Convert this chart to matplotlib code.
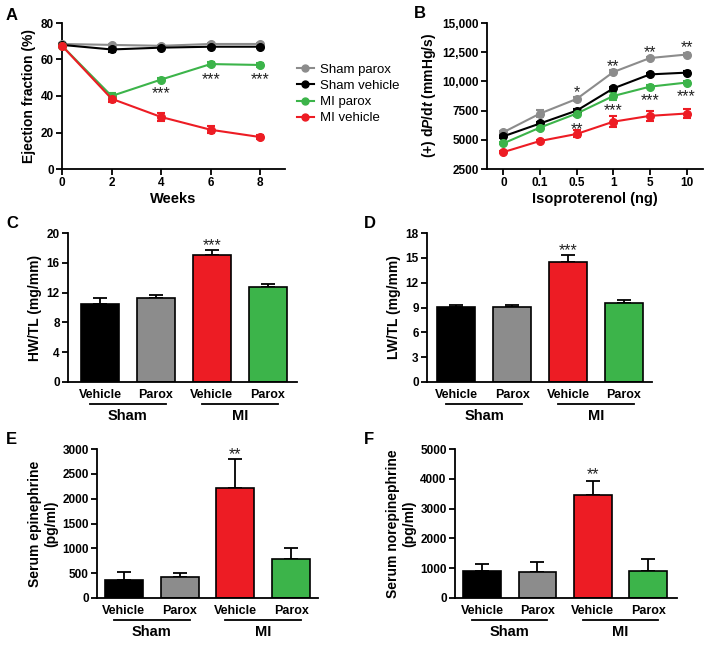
import matplotlib
matplotlib.use("Agg")
import matplotlib.pyplot as plt
from matplotlib.lines import Line2D
import numpy as np

plt.rcParams['font.family'] = ['Liberation Sans', 'DejaVu Sans']
plt.rcParams['mathtext.fontset'] = 'custom'
plt.rcParams['mathtext.rm'] = 'Liberation Sans:bold'
plt.rcParams['mathtext.bf'] = 'Liberation Sans:bold'
plt.rcParams['mathtext.it'] = 'Liberation Sans:italic:bold'

W, H = 714, 647
fig = plt.figure(figsize=(W / 100, H / 100), dpi=100)

C_GRAY = '#8c8c8c'
C_BLACK = '#000000'
C_GREEN = '#3cb44a'
C_RED = '#ed1c24'

# ---------------- data ----------------
weeks = [0, 2, 4, 6, 8]
ef_sham_parox = [68.5, 68, 67.5, 68.5, 68.5]
ef_sham_parox_err = [0.5, 0.5, 0.5, 0.5, 0.5]
ef_sham_vehicle = [68, 65.5, 66.5, 67, 67]
ef_sham_vehicle_err = [0.5, 1.5, 0.7, 0.5, 0.5]
ef_mi_parox = [67.5, 40, 49, 57.5, 57]
ef_mi_parox_err = [0.5, 1.5, 1, 1, 1]
ef_mi_vehicle = [67.5, 38.5, 28.5, 21.5, 17.5]
ef_mi_vehicle_err = [0.5, 2, 2, 2, 1]
legend_labels = ['Sham parox', 'Sham vehicle', 'MI parox', 'MI vehicle']
a_star_x = [4, 6, 8]
a_star_y = [43, 51, 51]

iso_labels = ['0', '0.1', '0.5', '1', '5', '10']
dp_sham_parox = [5650, 7250, 8500, 10800, 12000, 12300]
dp_sham_parox_err = [100, 300, 150, 150, 100, 100]
dp_sham_vehicle = [5300, 6400, 7500, 9400, 10600, 10750]
dp_sham_vehicle_err = [150, 150, 150, 150, 150, 150]
dp_mi_parox = [4700, 6050, 7250, 8750, 9550, 9900]
dp_mi_parox_err = [100, 250, 250, 300, 150, 100]
dp_mi_vehicle = [3950, 4900, 5500, 6550, 7050, 7250]
dp_mi_vehicle_err = [100, 100, 300, 450, 400, 400]
b_top_stars = ['', '', '*', '**', '**', '**']
b_top_star_y = [0, 0, 9300, 11550, 12750, 13200]
b_bot_stars = ['', '', '**', '***', '***', '***']
b_bot_star_y = [0, 0, 6200, 7800, 8650, 9000]

bar_groups = ['Vehicle', 'Parox', 'Vehicle', 'Parox']
bar_colors = [C_BLACK, C_GRAY, C_RED, C_GREEN]
hwtl = [10.5, 11.3, 17.0, 12.7]
hwtl_err = [0.8, 0.35, 0.7, 0.4]
lwtl = [9.1, 9.1, 14.5, 9.5]
lwtl_err = [0.15, 0.15, 0.9, 0.4]
epi = [360, 420, 2210, 780]
epi_err = [170, 80, 580, 220]
norepi = [900, 860, 3440, 920]
norepi_err = [250, 350, 500, 400]

STAR_FS = 11.5


def axes_px(left, top, right, bottom):
    return fig.add_axes([left / W, 1 - bottom / H, (right - left) / W, (bottom - top) / H])


def style(ax):
    for s in ['top', 'right']:
        ax.spines[s].set_visible(False)
    for s in ['left', 'bottom']:
        ax.spines[s].set_linewidth(1.3)
    ax.tick_params(direction='out', length=4, width=1.3, labelsize=8.5, pad=2)
    for lab in ax.get_xticklabels() + ax.get_yticklabels():
        lab.set_fontweight('bold')


def star(ax, x, y, s):
    # asterisk glyphs sit high in the em box; shift down so the glyph centre is at y
    ax.annotate(s, (x, y), xytext=(0, -0.22 * STAR_FS), textcoords='offset points',
                ha='center', va='center', fontsize=STAR_FS, color='#222222')


def panel_label(txt, x, y):
    fig.text(x / W, 1 - y / H, txt, fontsize=12, fontweight='bold', ha='left', va='center')


# ---------------- Panel A ----------------
axA = axes_px(62, 23, 285, 169)
series_A = [(ef_sham_parox, ef_sham_parox_err, C_GRAY),
            (ef_sham_vehicle, ef_sham_vehicle_err, C_BLACK),
            (ef_mi_parox, ef_mi_parox_err, C_GREEN),
            (ef_mi_vehicle, ef_mi_vehicle_err, C_RED)]
handles = []
for (vals, err, col), lab in zip(series_A, legend_labels):
    axA.errorbar(weeks, vals, yerr=err, color=col, marker='o', markersize=5.5,
                 linewidth=1.5, capsize=3, elinewidth=1.5, capthick=1.5,
                 clip_on=False, zorder=3)
    handles.append(Line2D([], [], color=col, marker='o', markersize=5, linewidth=1.5))
axA.set_xlim(0, 9)
axA.set_ylim(0, 80)
axA.set_xticks([0, 2, 4, 6, 8])
axA.set_yticks([0, 20, 40, 60, 80])
axA.set_xlabel('Weeks', fontsize=10.5, fontweight='bold', labelpad=2)
axA.set_ylabel('Ejection fraction (%)', fontsize=10, fontweight='bold', labelpad=3)
style(axA)
for x, y in zip(a_star_x, a_star_y):
    star(axA, x, y, '***')
fig.legend(handles=handles, labels=legend_labels, loc='upper left',
           bbox_to_anchor=(290 / W, 1 - 57 / H), frameon=False, fontsize=9.5,
           handlelength=1.3, handletextpad=0.5, labelspacing=0.3, borderpad=0)
panel_label('A', 6, 15)

# ---------------- Panel B ----------------
axB = axes_px(487, 23, 703, 169)
xB = np.arange(len(iso_labels))
series_B = [(dp_sham_parox, dp_sham_parox_err, C_GRAY),
            (dp_sham_vehicle, dp_sham_vehicle_err, C_BLACK),
            (dp_mi_parox, dp_mi_parox_err, C_GREEN),
            (dp_mi_vehicle, dp_mi_vehicle_err, C_RED)]
for vals, err, col in series_B:
    axB.errorbar(xB, vals, yerr=err, color=col, marker='o', markersize=5.5,
                 linewidth=1.5, capsize=3, elinewidth=1.5, capthick=1.5, zorder=3)
axB.set_xlim(-0.45, 5.45)
axB.set_ylim(2500, 15000)
axB.set_xticks(xB)
axB.set_xticklabels(iso_labels)
yt = [2500, 5000, 7500, 10000, 12500, 15000]
axB.set_yticks(yt)
axB.set_yticklabels(['2500', '5000', '7500', '10,000', '12,500', '15,000'])
axB.set_xlabel('Isoproterenol (ng)', fontsize=10.5, fontweight='bold', labelpad=2)
axB.set_ylabel(r'(+) d$\it{P}$/d$\it{t}$ (mmHg/s)', fontsize=10, fontweight='bold', labelpad=3)
style(axB)
for x, s, y in zip(xB, b_top_stars, b_top_star_y):
    if s:
        star(axB, x, y, s)
for x, s, y in zip(xB, b_bot_stars, b_bot_star_y):
    if s:
        star(axB, x, y, s)
panel_label('B', 414, 14)


# ---------------- bar panels ----------------
def bar_panel(rect, vals, errs, ylim, yticks, ylabel, s, star_y, xlim):
    ax = axes_px(*rect)
    x = np.arange(len(vals))
    ax.bar(x, vals, width=0.68, color=bar_colors, edgecolor='black', linewidth=1.2, zorder=2)
    ax.errorbar(x, vals, yerr=[np.zeros(len(errs)), errs], fmt='none', ecolor='black',
                elinewidth=1.3, capsize=5, capthick=1.3, zorder=1)
    ax.set_xlim(*xlim)
    ax.set_ylim(*ylim)
    ax.set_yticks(yticks)
    ax.set_xticks(x)
    ax.set_xticklabels(bar_groups)
    ax.set_ylabel(ylabel, fontsize=10, fontweight='bold', labelpad=3)
    style(ax)
    ax.tick_params(axis='x', length=0, labelsize=9, pad=5)
    tr = ax.get_xaxis_transform()
    for c, name in [(0.5, 'Sham'), (2.5, 'MI')]:
        ax.plot([c - 0.68, c + 0.68], [-0.148, -0.148], transform=tr, color='black',
                linewidth=1.3, clip_on=False)
        ax.text(c, -0.225, name, transform=tr, ha='center', va='center',
                fontsize=10.5, fontweight='bold')
    star(ax, 2, star_y, s)
    return ax


bar_panel((68, 233, 297, 382), hwtl, hwtl_err, (0, 20), [0, 4, 8, 12, 16, 20],
          'HW/TL (mg/mm)', '***', 18.8, (-0.57, 3.52))
panel_label('C', 6, 223)
bar_panel((427, 233, 652, 382), lwtl, lwtl_err, (0, 18), [0, 3, 6, 9, 12, 15, 18],
          'LW/TL (mg/mm)', '***', 16.3, (-0.52, 3.5))
panel_label('D', 364, 223)
bar_panel((97, 449, 318, 598), epi, epi_err, (0, 3000), [0, 500, 1000, 1500, 2000, 2500, 3000],
          'Serum epinephrine\n(pg/ml)', '**', 2960, (-0.48, 3.48))
panel_label('E', 6, 440)
bar_panel((455, 449, 677, 598), norepi, norepi_err, (0, 5000), [0, 1000, 2000, 3000, 4000, 5000],
          'Serum norepinephrine\n(pg/ml)', '**', 4260, (-0.49, 3.52))
panel_label('F', 364, 440)

fig.savefig('out.png', dpi=100)
